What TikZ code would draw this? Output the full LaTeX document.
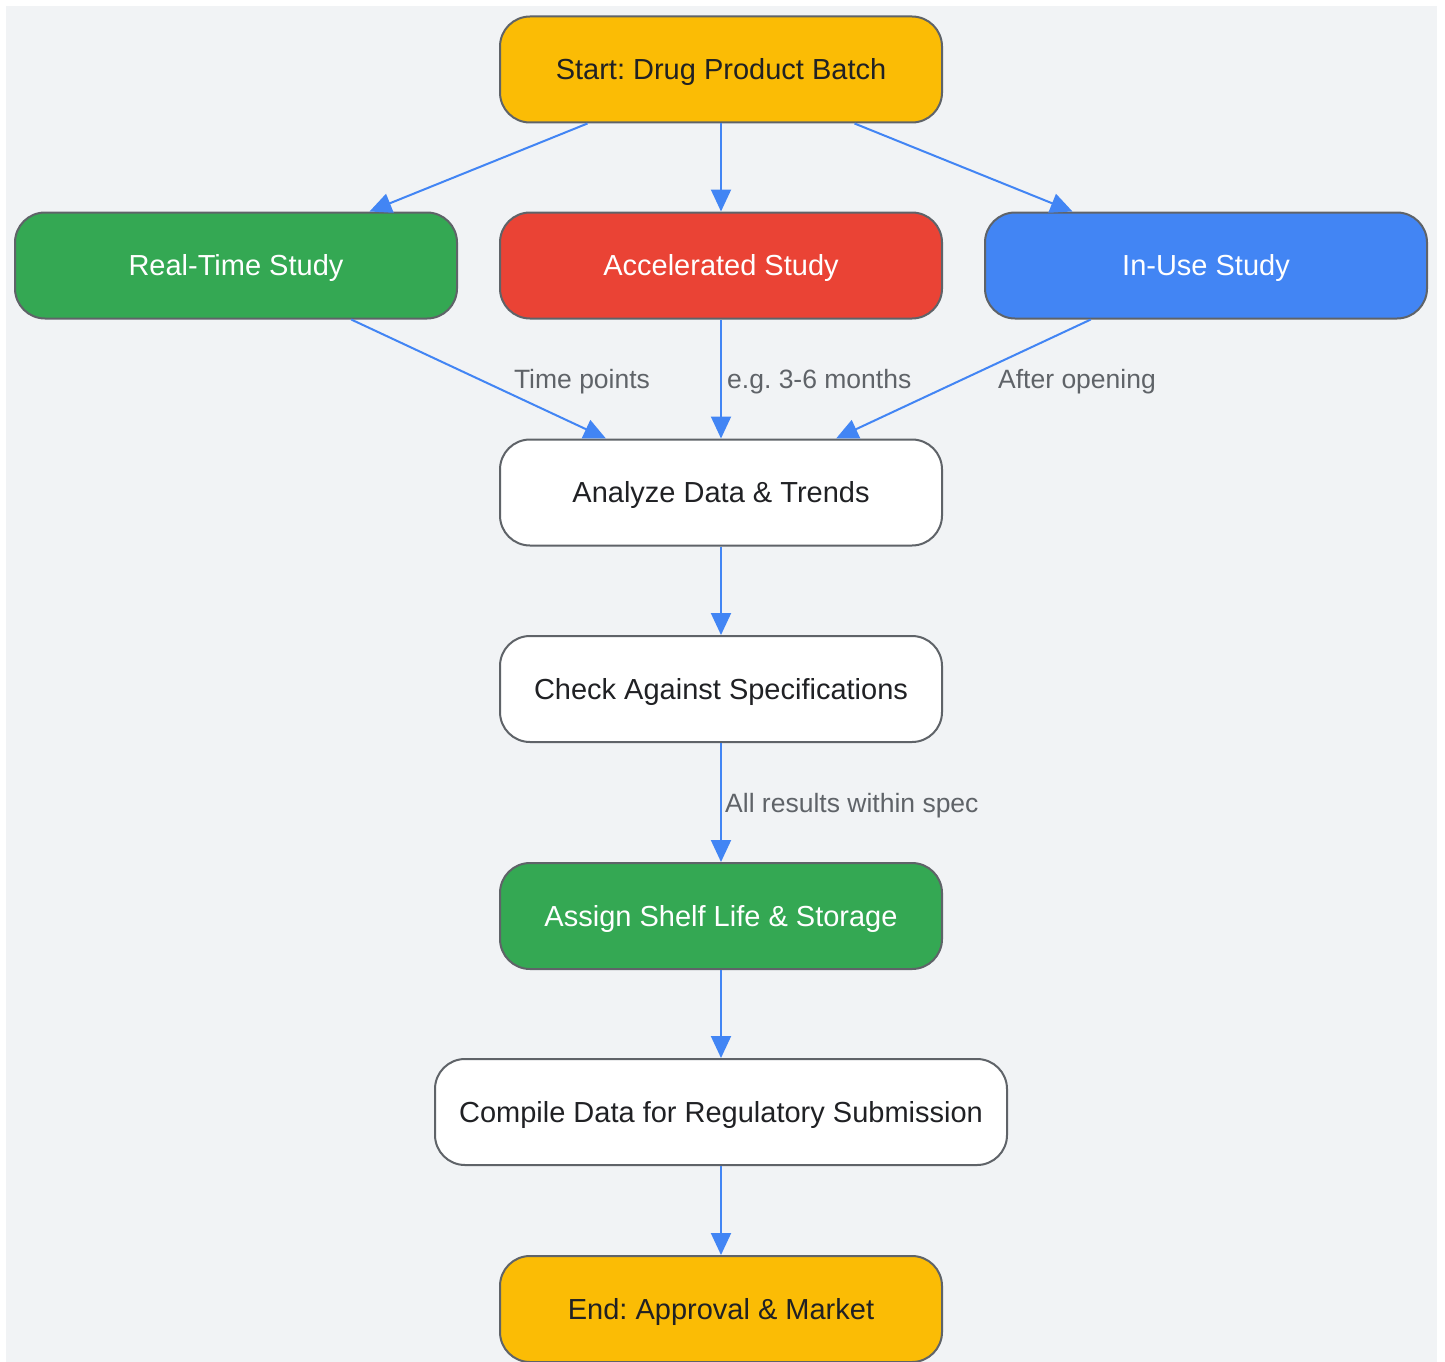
\documentclass[tikz,border=0pt]{standalone}
\usepackage{fontspec}
\setmainfont{Liberation Sans}
\usetikzlibrary{arrows.meta}
\frenchspacing
\definecolor{bgc}{HTML}{F1F3F5}
\definecolor{gyellow}{HTML}{FBBC05}
\definecolor{ggreen}{HTML}{34A853}
\definecolor{gred}{HTML}{EA4335}
\definecolor{gblue}{HTML}{4285F4}
\definecolor{bordc}{HTML}{5F6368}
\definecolor{darktxt}{HTML}{202124}
\definecolor{labtxt}{HTML}{5F6368}
\tikzset{
  box/.style={draw=bordc, line width=2pt, rounded corners=30pt, minimum width=442pt, minimum height=106pt, inner sep=0pt, text height=20.8pt, text depth=0pt, font=\frenchspacing\fontsize{29}{34}\selectfont},
  yellowbox/.style={box, fill=gyellow, text=darktxt},
  greenbox/.style={box, fill=ggreen, text=white},
  redbox/.style={box, fill=gred, text=white},
  bluebox/.style={box, fill=gblue, text=white},
  whitebox/.style={box, fill=white, text=darktxt},
  conn/.style={draw=gblue, line width=2pt, -{Triangle[length=22pt,width=20pt]}},
  lab/.style={text=labtxt, font=\frenchspacing\fontsize{26.5}{30}\selectfont, inner sep=0pt, text height=19pt, text depth=0pt}
}
\begin{document}
\begin{tikzpicture}[x=1pt,y=-1pt]
\useasboundingbox (0,0) rectangle (1445,1362);
\fill[white] (0,0) rectangle (1445,1362);
\fill[bgc] (6,6) rectangle (1437,1362);
\node[yellowbox] (start) at (721,69.5) {Start: Drug Product Batch};
\node[greenbox] (rt) at (236,265.5) {Real-Time Study};
\node[redbox] (acc) at (721,265.5) {Accelerated Study};
\node[bluebox] (inuse) at (1206,265.5) {In-Use Study};
\node[whitebox] (ana) at (721,492.5) {Analyze Data \& Trends};
\node[whitebox] (chk) at (721,689) {Check Against Specifications};
\node[greenbox] (assign) at (721,916) {Assign Shelf Life \& Storage};
\node[whitebox, minimum width=572pt] (comp) at (721,1112) {Compile Data for Regulatory Submission};
\node[yellowbox] (endn) at (721,1309) {End: Approval \& Market};
\draw[conn] (start) -- (rt);
\draw[conn] (start) -- (acc);
\draw[conn] (start) -- (inuse);
\draw[conn] (rt) -- (ana);
\draw[conn] (acc) -- (ana);
\draw[conn] (inuse) -- (ana);
\draw[conn] (ana) -- (chk);
\draw[conn] (chk) -- (assign);
\draw[conn] (assign) -- (comp);
\draw[conn] (comp) -- (endn);
\node[lab] (l1) at (582,379) {Time points};
\node[lab, anchor=west] (l2) at (727,379) {e.g. 3-6 months};
\node[lab] (l3) at (1077,379) {After opening};
\node[lab, anchor=west] (l4) at (725,803) {All results within spec};
\end{tikzpicture}
\end{document}
